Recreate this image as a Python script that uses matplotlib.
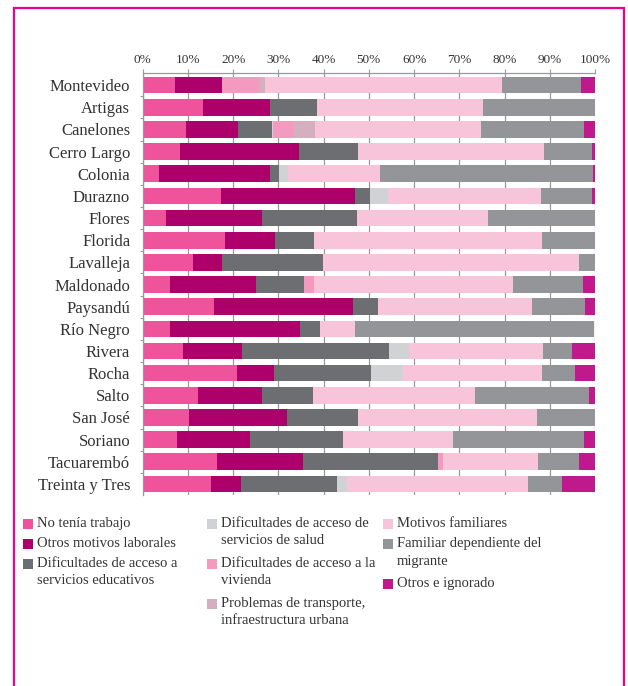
import matplotlib

matplotlib.use("Agg")
import matplotlib.pyplot as plt
import numpy as np
from matplotlib.patches import Rectangle

plt.rcParams["font.family"] = ["Liberation Serif", "DejaVu Serif"]

TEXT = "#333333"
BORDER = "#EC008C"

departamentos = [
    "Montevideo", "Artigas", "Canelones", "Cerro Largo", "Colonia", "Durazno",
    "Flores", "Florida", "Lavalleja", "Maldonado", "Paysandú", "Río Negro",
    "Rivera", "Rocha", "Salto", "San José", "Soriano", "Tacuarembó",
    "Treinta y Tres",
]

# % por motivo, en el orden de departamentos
no_trabajo = [7.1, 13.3, 9.6, 8.3, 3.6, 17.3, 5.2, 18.2, 11.1, 6.0, 15.8, 6.0, 8.9, 20.9, 12.2, 10.2, 7.6, 16.4, 15.1]
otros_laborales = [10.4, 14.8, 11.5, 26.3, 24.5, 29.6, 21.2, 11.1, 6.4, 19.0, 30.7, 28.7, 13.0, 8.2, 14.1, 21.7, 16.1, 19.0, 6.6]
educativos = [0, 10.4, 7.4, 13.0, 2.0, 3.3, 21.0, 8.6, 22.3, 10.6, 5.5, 4.6, 32.5, 21.4, 11.3, 15.7, 20.6, 29.8, 21.2]
salud = [0, 0, 0.4, 0, 2.0, 4.0, 0, 0, 0, 0, 0, 0, 4.4, 7.1, 0, 0, 0, 0, 2.2]
vivienda = [8.2, 0, 4.5, 0, 0, 0, 0, 0, 0, 2.2, 0, 0, 0, 0, 0, 0, 0, 1.3, 0]
transporte = [1.3, 0, 4.6, 0, 0, 0, 0, 0, 0, 0, 0, 0, 0, 0, 0, 0, 0, 0, 0]
familiares = [52.4, 36.7, 36.7, 41.1, 20.3, 33.8, 29.0, 50.4, 56.6, 44.0, 34.0, 7.7, 29.8, 30.7, 35.8, 39.6, 24.3, 20.8, 40.0]
dependiente = [17.5, 24.8, 22.8, 10.6, 47.1, 11.3, 23.7, 11.7, 3.5, 15.5, 11.7, 52.8, 6.4, 7.3, 25.2, 12.8, 29.0, 9.1, 7.7]
otros = [3.1, 0, 2.4, 0.7, 0.4, 0.7, 0, 0, 0, 2.7, 2.2, 0, 4.9, 4.4, 1.3, 0, 2.4, 3.5, 7.1]

motivos = [
    "No tenía trabajo",
    "Otros motivos laborales",
    "Dificultades de acceso a\nservicios educativos",
    "Dificultades de acceso de\nservicios de salud",
    "Dificultades de acceso a la\nvivienda",
    "Problemas de transporte,\ninfraestructura urbana",
    "Motivos familiares",
    "Familiar dependiente del\nmigrante",
    "Otros e ignorado",
]
series = [no_trabajo, otros_laborales, educativos, salud, vivienda,
          transporte, familiares, dependiente, otros]
colores = ["#EE539C", "#AD006A", "#6D6E71", "#D1D2D4", "#F49AC1",
           "#D3AFC0", "#F8C4DA", "#939598", "#C0198C"]

fig = plt.figure(figsize=(6.28, 6.86), dpi=100)
ax = fig.add_axes([0.2272, 0.2784, 0.7203, 0.6152])

y = np.arange(len(departamentos))
left = np.zeros(len(departamentos))
for vals, col in zip(series, colores):
    ax.barh(y, vals, left=left, height=0.75, color=col, linewidth=0, zorder=2)
    left += np.array(vals)

ax.set_xlim(0, 100)
ax.set_ylim(18.5, -0.55)
ax.xaxis.tick_top()
ax.set_xticks(np.arange(0, 101, 10))
ax.set_xticklabels([f"{v}%" for v in range(0, 101, 10)], fontsize=9.5, color=TEXT)
ax.tick_params(axis="x", length=3, width=0.8, color="#999999", pad=2)
ax.grid(axis="x", color="#999999", lw=0.9, zorder=0)

ax.set_yticks(y)
ax.set_yticklabels(departamentos, fontsize=12, color=TEXT)
ax.set_yticks(y[:-1] + 0.5, minor=True)
ax.tick_params(axis="y", which="major", length=0, pad=9)
ax.tick_params(axis="y", which="minor", length=2, width=0.8, color="#999999")

for side in ("right", "bottom"):
    ax.spines[side].set_visible(False)
for side in ("top", "left"):
    ax.spines[side].set_color("#999999")
    ax.spines[side].set_linewidth(0.9)

# leyenda manual en tres columnas
W, H = 628.0, 686.0
cols_x = [23, 207, 383]
col_of = [0, 0, 0, 1, 1, 1, 2, 2, 2]
row_y = {0: 524, 1: 524, 2: 524}
for nombre, col, c in zip(motivos, colores, col_of):
    x0 = cols_x[c]
    yc = row_y[c]
    fig.patches.append(Rectangle((x0 / W, 1 - (yc + 5) / H), 10 / W, 10 / H,
                                 transform=fig.transFigure, facecolor=col,
                                 edgecolor="none"))
    fig.text((x0 + 14) / W, 1 - (yc - 7) / H, nombre, fontsize=10.5,
             color=TEXT, va="top", ha="left", linespacing=1.45)
    row_y[c] = yc + 20 * (nombre.count("\n") + 1)

# marco rosado
fig.patches.append(Rectangle((14 / W, -0.05), (624 - 14) / W, 1.05 - 8 / H,
                             transform=fig.transFigure, facecolor="none",
                             edgecolor=BORDER, lw=1.6))

fig.savefig("out.png", dpi=100)
